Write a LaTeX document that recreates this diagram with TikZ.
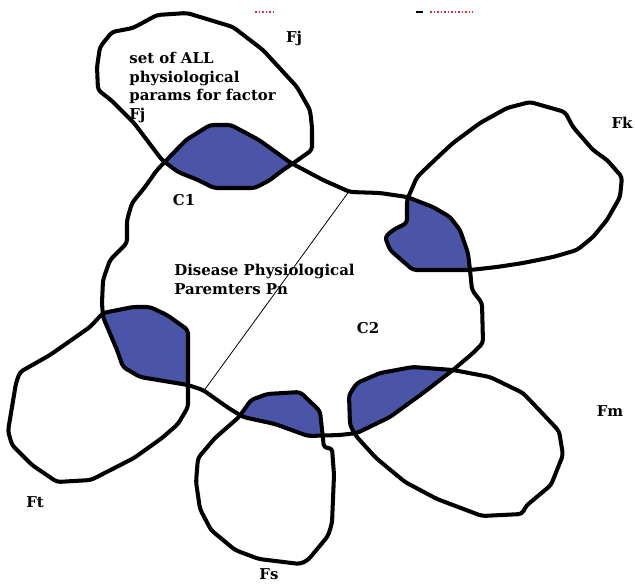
\documentclass[tikz,border=0pt]{standalone}
\usepackage{fontspec}
\setmainfont{DejaVu Serif}
\usepackage{xcolor}
\usepackage{tikz}
\definecolor{lensfill}{HTML}{4A55A8}
\definecolor{markred}{HTML}{E0303A}
\tikzset{
  blobline/.style={draw=black,line width=2.3pt,rounded corners=2pt,line join=round},
  lens/.style={fill=lensfill,rounded corners=2pt},
  split/.style={draw=black,line width=0.45pt},
  lbl/.style={font=\bfseries\fontsize{8.5}{10.6}\selectfont,inner sep=0pt},
  scrib/.style={draw=markred,line width=1.3pt,dash pattern=on 1pt off 1pt}
}
% outlines traced in pixel units of the sketch
\def\mainbody{(157,170) -- (186,140) -- (210,125) -- (231,125) -- (259,140) -- (291,163) -- (323,180) -- (350,192) -- (380,193) -- (407,197) -- (433,207) -- (450,217) -- (460,230) -- (468,253) -- (470,270) -- (472,290) -- (482,303) -- (483,343) -- (473,353) -- (453,370) -- (423,393) -- (390,417) -- (357,433) -- (340,435) -- (308,436) -- (275,424) -- (243,417) -- (227,407) -- (203,390) -- (188,385) -- (170,382) -- (140,377) -- (123,367) -- (117,350) -- (103,317) -- (102,303) -- (103,280) -- (110,260) -- (127,243) -- (127,220) -- (132,203) -- (145,187) -- cycle}
\def\fjblob{(157,15) -- (187,13) -- (210,20) -- (233,27) -- (263,50) -- (297,87) -- (310,110) -- (312,127) -- (312,150) -- (295,162) -- (283,170) -- (270,180) -- (255,188) -- (214,188) -- (198,180) -- (178,172) -- (162,160) -- (134,123) -- (111,100) -- (98,90) -- (97,67) -- (100,47) -- (112,32) -- (133,28) -- cycle}
\def\fkblob{(530,102) -- (565,112) -- (573,127) -- (593,150) -- (607,160) -- (622,177) -- (620,197) -- (607,220) -- (593,237) -- (577,250) -- (553,257) -- (523,263) -- (497,267) -- (470,270) -- (413,270) -- (390,250) -- (385,237) -- (393,230) -- (407,223) -- (407,200) -- (417,177) -- (440,155) -- (453,143) -- (480,123) -- (507,108) -- cycle}
\def\ftblob{(16,383) -- (20,372) -- (50,355) -- (90,327) -- (103,313) -- (133,307) -- (150,307) -- (167,315) -- (188,330) -- (188,385) -- (188,407) -- (178,424) -- (162,438) -- (134,458) -- (91,480) -- (57,482) -- (32,465) -- (12,445) -- (8,431) -- cycle}
\def\fsblob{(267,394) -- (300,392) -- (320,411) -- (324,448) -- (332,448) -- (334,475) -- (332,523) -- (328,536) -- (308,560) -- (300,564) -- (259,559) -- (235,550) -- (211,530) -- (200,509) -- (196,482) -- (198,458) -- (215,438) -- (239,417) -- (251,400) -- cycle}
\def\fmblob{(380,373) -- (413,367) -- (453,370) -- (490,377) -- (523,393) -- (543,414) -- (559,431) -- (563,455) -- (551,485) -- (526,506) -- (522,514) -- (482,516) -- (437,499) -- (405,482) -- (376,458) -- (356,436) -- (350,425) -- (349,395) -- (357,383) -- cycle}
\begin{document}
\begin{tikzpicture}[x=0.02cm,y=-0.02cm]
  \useasboundingbox (0,0) rectangle (635,584);
  % shared regions
  \begin{scope}
    \clip[rounded corners=2pt] \mainbody;
    \fill[lens] \fjblob;
    \fill[lens] \fkblob;
    \fill[lens] \ftblob;
    \fill[lens] \fsblob;
    \fill[lens] \fmblob;
  \end{scope}
  \path[blobline] \mainbody;
  \path[blobline] \fjblob;
  \path[blobline] \fkblob;
  \path[blobline] \ftblob;
  \path[blobline] \fsblob;
  \path[blobline] \fmblob;
  \coordinate (cuttop) at (350,190);
  \coordinate (cutbot) at (203,392);
  \draw[split] (cuttop) -- (cutbot);
  \draw[scrib] (255,12) -- (274,12);
  \draw[scrib] (430,12) -- (473,12);
  \draw[line width=1.3pt] (416,12) -- (423,12);
  \node[lbl] (fjname) at (294,38) {Fj};
  \node[lbl,anchor=north west,align=left] (fjset) at (129,52) {set of ALL\\physiological\\params for factor\\Fj};
  \node[lbl] (fkname) at (622,123) {Fk};
  \node[lbl] (cone) at (184,200) {C1};
  \node[lbl,anchor=north west,align=left] (pn) at (174,264) {Disease Physiological\\Paremters Pn};
  \node[lbl] (ctwo) at (368,328) {C2};
  \node[lbl] (fmname) at (610,411) {Fm};
  \node[lbl] (ftname) at (35,502) {Ft};
  \node[lbl] (fsname) at (269,574) {Fs};
\end{tikzpicture}
\end{document}
